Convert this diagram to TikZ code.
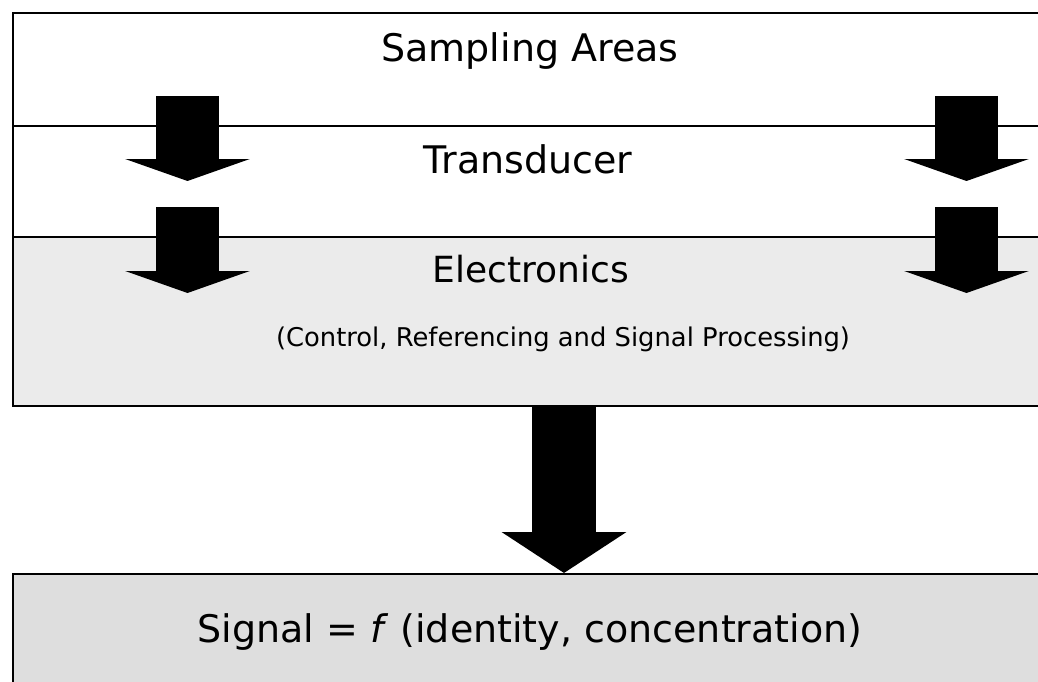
\documentclass[tikz,border=0pt]{standalone}
\usepackage{fontspec}
\setmainfont{DejaVu Sans}
\usetikzlibrary{arrows.meta}
\definecolor{elecgray}{gray}{0.92}
\definecolor{siggray}{gray}{0.87}
\tikzset{
  band/.style={draw=black, line width=1.6pt, rectangle, inner sep=0pt, anchor=north west,
    minimum width=1040pt},
  title/.style={anchor=base, inner sep=0pt, font=\fontsize{38}{44}\selectfont},
  smallarrow/.style={line width=63pt, -{Triangle[width=124pt,length=22pt]}, black},
  bigarrow/.style={line width=64pt, -{Triangle[width=123pt,length=41pt]}, black}
}
\begin{document}
\begin{tikzpicture}[x=1pt,y=-1pt]
\useasboundingbox (0,0) rectangle (1038,682);
\fill[white] (0,0) rectangle (1038,682);
% bands
\node[band, minimum height=113pt] (samp) at (12,12) {};
\node[band, minimum height=111pt] (trans) at (12,125) {};
\node[band, fill=elecgray, minimum height=169pt] (elec) at (12,236) {};
\node[band, fill=siggray, minimum height=130pt] (sig) at (12,573) {};
% texts
\node[title] (tsamp) at (530,62) {Sampling Areas};
\node[title] (ttrans) at (528,173) {Transducer};
\node[title, font=\fontsize{36}{42}\selectfont] (telec) at (531,282) {Electronics};
\node[title, font=\fontsize{25.8}{30}\selectfont] (tsub) at (563,346) {(Control, Referencing and Signal Processing)};
\node[title] (tsig) at (530,642) {Signal = \textit{f} (identity, concentration)};
% small block arrows
\coordinate (l1s) at (187.5,96);  \coordinate (l1e) at (187.5,181);
\coordinate (l2s) at (187.5,207); \coordinate (l2e) at (187.5,293);
\coordinate (r1s) at (966.5,96);  \coordinate (r1e) at (966.5,181);
\coordinate (r2s) at (966.5,207); \coordinate (r2e) at (966.5,293);
\draw[smallarrow] (l1s) -- (l1e);
\draw[smallarrow] (l2s) -- (l2e);
\draw[smallarrow] (r1s) -- (r1e);
\draw[smallarrow] (r2s) -- (r2e);
% big arrow
\draw[bigarrow] (elec.south -| 564,0) -- (sig.north -| 564,0);
\end{tikzpicture}
\end{document}
